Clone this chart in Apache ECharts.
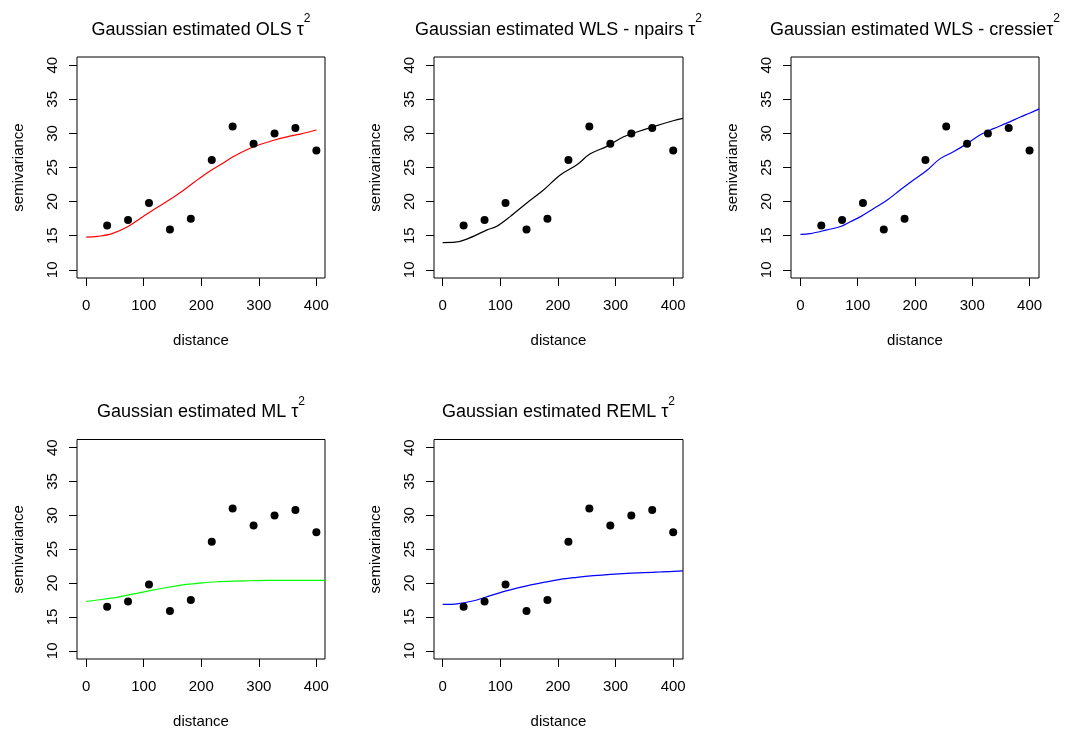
<!DOCTYPE html>
<html>
<head>
<meta charset="utf-8">
<script src="https://cdn.jsdelivr.net/npm/echarts@6/dist/echarts.min.js"></script>
<style>
  html, body { margin: 0; padding: 0; background: #fff; }
  #chart { width: 1066px; height: 730px; }
</style>
</head>
<body>
<div id="chart"></div>
<script>
// Empirical semivariogram (binned distances and semivariance)
const distance = [36.4, 72.7, 109.1, 145.5, 181.8, 218.2, 254.5, 290.9, 327.3, 363.6, 400];
const semivariance = [16.5, 17.3, 19.8, 15.9, 17.5, 26.1, 31.0, 28.5, 30.0, 30.8, 27.5];

// Fitted Gaussian variogram models, [distance, semivariance]
const fitOLS = [[0,14.8],[20,14.9],[45,15.3],[72,16.3],[95,17.6],[117,18.8],[140,20.0],[163,21.3],[187,22.8],[210,24.2],[233,25.4],[256,26.6],[279,27.6],[303,28.4],[326,29.0],[349,29.5],[372,29.9],[400,30.5]];
const fitWLSnpairs = [[0,14.0],[22,14.05],[42,14.5],[77,15.85],[94,16.4],[117,17.8],[146,19.8],[175,21.7],[204,23.9],[233,25.4],[256,27.0],[285,28.1],[314,29.5],[337,30.2],[366,31.0],[400,31.85],[417,32.2]];
const fitWLScressie = [[0,15.2],[17,15.3],[46,15.85],[70,16.35],[87,17.05],[105,17.8],[128,19.0],[151,20.2],[174,21.7],[198,23.2],[221,24.6],[244,26.3],[267,27.3],[291,28.5],[314,29.8],[337,30.7],[360,31.5],[384,32.4],[401,33.0],[417,33.6]];
const fitML = [[0,17.3],[24,17.55],[53,17.9],[82,18.4],[111,18.9],[140,19.35],[169,19.75],[198,20.0],[227,20.2],[256,20.3],[285,20.35],[314,20.4],[350,20.4],[416,20.4]];
const fitREML = [[0,16.85],[25,16.95],[54,17.4],[83,18.15],[112,18.9],[146,19.6],[175,20.1],[204,20.55],[233,20.85],[262,21.1],[291,21.3],[320,21.45],[349,21.55],[378,21.65],[417,21.8]];

// Tick labels
const xTicks = [0, 100, 200, 300, 400];
const yTicks = [10, 15, 20, 25, 30, 35, 40];

const titles = ['Gaussian estimated OLS ', 'Gaussian estimated WLS - npairs ', 'Gaussian estimated WLS - cressie', 'Gaussian estimated ML ', 'Gaussian estimated REML '];
const fits = [fitOLS, fitWLSnpairs, fitWLScressie, fitML, fitREML];
const fitColors = ['#ff0000', '#000000', '#0000ff', '#00ff00', '#0000ff'];

// Panel placement: box [left, top, width, height] and x extent
const panels = [
  { box: [77, 57, 248, 221], xr: [-16, 415] },
  { box: [434, 57, 249, 221], xr: [-15, 417] },
  { box: [791, 57, 248, 221], xr: [-16.5, 416.5] },
  { box: [77, 439.5, 248, 221], xr: [-16, 415] },
  { box: [434, 439.5, 249, 221], xr: [-15, 417] }
];
const yRange = [8.8, 41.2];

const FONT = '"Liberation Sans", Arial, sans-serif';
const ink = '#000';

const grid = [], xAxis = [], yAxis = [], series = [], title = [];
panels.forEach((p, i) => {
  const [l, t, w, h] = p.box;
  grid.push({ left: l, top: t, width: w, height: h, show: true, borderColor: '#000', borderWidth: 1, backgroundColor: 'transparent', containLabel: false });
  xAxis.push({
    gridIndex: i, type: 'value', min: p.xr[0], max: p.xr[1],
    splitLine: { show: false },
    axisLine: { show: false, onZero: false },
    axisTick: { show: true, inside: false, length: 8, customValues: xTicks, lineStyle: { color: ink, width: 1 } },
    axisLabel: { customValues: xTicks, margin: 20, fontSize: 15, color: ink, fontFamily: FONT },
    name: 'distance', nameLocation: 'middle', nameGap: 55,
    nameTextStyle: { fontSize: 15, color: ink, fontFamily: FONT }
  });
  yAxis.push({
    gridIndex: i, type: 'value', min: yRange[0], max: yRange[1],
    splitLine: { show: false },
    axisLine: { show: false, onZero: false },
    axisTick: { show: true, inside: false, length: 8, customValues: yTicks, lineStyle: { color: ink, width: 1 } },
    axisLabel: { customValues: yTicks, rotate: 90, margin: 17, fontSize: 15, color: ink, fontFamily: FONT },
    name: 'semivariance', nameLocation: 'middle', nameGap: 51,
    nameTextStyle: { fontSize: 15, color: ink, fontFamily: FONT }
  });
  series.push({
    type: 'line', xAxisIndex: i, yAxisIndex: i, data: fits[i],
    showSymbol: false, smooth: 0.35, silent: true,
    lineStyle: { color: fitColors[i], width: 1.2 }, z: 2
  });
  series.push({
    type: 'scatter', xAxisIndex: i, yAxisIndex: i,
    data: distance.map((d, k) => [d, semivariance[k]]),
    symbol: 'circle', symbolSize: 8, itemStyle: { color: '#000', opacity: 1 }, z: 3
  });
  title.push({
    text: '{m|' + titles[i] + 'τ}{s|2}',
    left: l + w / 2, top: t - 44, textAlign: 'center', padding: 0,
    textStyle: {
      fontWeight: 'normal',
      rich: {
        m: { fontSize: 18, fontWeight: 'normal', fontFamily: FONT, color: ink, lineHeight: 26, verticalAlign: 'bottom' },
        s: { fontSize: 12, fontWeight: 'normal', fontFamily: FONT, color: ink, lineHeight: 26, verticalAlign: 'top' }
      }
    }
  });
});

const chart = echarts.init(document.getElementById('chart'), null, { renderer: 'canvas' });
chart.setOption({
  backgroundColor: '#fff',
  animation: false,
  title, grid, xAxis, yAxis, series
});
</script>
</body>
</html>
